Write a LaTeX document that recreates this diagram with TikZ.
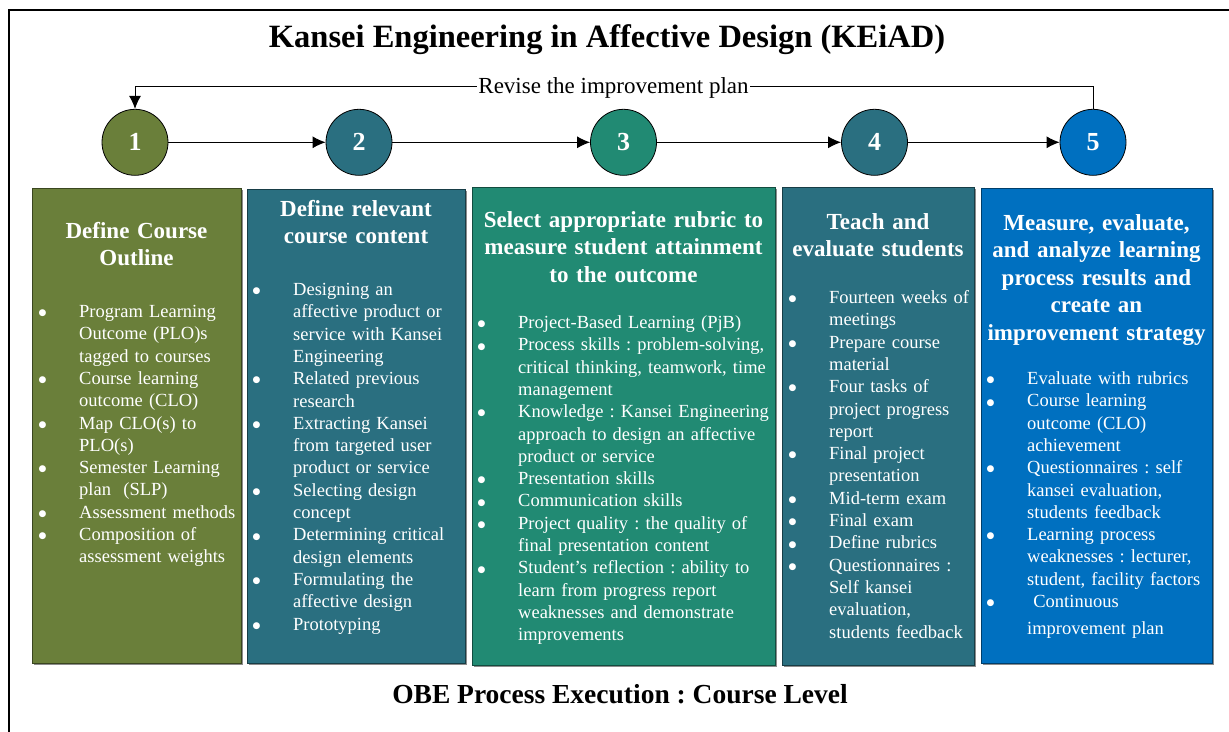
\documentclass[tikz,border=0pt]{standalone}
\usepackage{fontspec}
\setmainfont{Liberation Serif}
\newfontfamily\symfont{DejaVu Sans}
\usetikzlibrary{arrows.meta}
\frenchspacing
\definecolor{kolive}{RGB}{106,127,58}
\definecolor{kteal}{RGB}{42,111,128}
\definecolor{kgreen}{RGB}{33,138,115}
\definecolor{kblue}{RGB}{0,112,192}
\newcommand\bulletmark{\raisebox{1.8pt}{\symfont\fontsize{9}{9}\selectfont ●}}
\newcommand\bl[1]{\noindent\makebox[40.5pt][l]{\bulletmark}\mbox{#1}\par}
\newcommand\cl[1]{\noindent\hspace*{40.5pt}\mbox{#1}\par}
\tikzset{
  stepcircle/.style={circle, draw=black, line width=0.8pt, minimum size=66pt, inner sep=0pt, text=white, font=\bfseries\fontsize{26}{30}\selectfont},
  flow/.style={-{Latex[length=13pt,width=12pt]}, line width=1pt},
  boxhead/.style={anchor=base, align=center, text=white, inner sep=0pt, font=\bfseries\fontsize{23}{27.5}\selectfont},
  boxbody/.style={anchor=base west, align=left, text=white, inner sep=0pt, font=\fontsize{18.5}{22.3}\selectfont},
}
\newcommand\panel[5]{%
  \fill[black!45] (#1+1.5,#2+1.5) rectangle (#3+1.5,#4+1.5);
  \filldraw[fill=#5, draw=#5!55!black, line width=0.8pt] (#1,#2) rectangle (#3,#4);}
\begin{document}
\begin{tikzpicture}[x=1pt,y=-1pt]
\path[use as bounding box] (0,0) rectangle (1229,731);
\begin{scope}
\clip (0,0) rectangle (1229,731);
\draw[line width=2pt] (1240,10) -- (8.5,10) -- (8.5,745);
\end{scope}

\node[anchor=base, font=\bfseries\fontsize{32.5}{38}\selectfont] (title) at (607,47.5) {Kansei Engineering in Affective Design (KEiAD)};

% circles
\node[stepcircle, fill=kolive] (c1) at (135,142.3) {1};
\node[stepcircle, fill=kteal] (c2) at (359,142.3) {2};
\node[stepcircle, fill=kgreen] (c3) at (623.5,142.3) {3};
\node[stepcircle, fill=kteal] (c4) at (874.5,142.3) {4};
\node[stepcircle, fill=kblue] (c5) at (1093,142.3) {5};
\draw[flow] (c1) -- (c2);
\draw[flow] (c2) -- (c3);
\draw[flow] (c3) -- (c4);
\draw[flow] (c4) -- (c5);
\coordinate (loop) at (613.5,86.5);
\draw[flow] (c5.north) |- (loop) -| (c1.north);
\node[anchor=base, fill=white, inner xsep=1.5pt, inner ysep=0pt, font=\fontsize{23}{27}\selectfont] (revise) at (613.5,93.5) {Revise the improvement plan};

% panels
\panel{32}{188.5}{241}{663.5}{kolive}
\panel{247}{189}{465}{663.5}{kteal}
\panel{472}{187}{775}{665}{kgreen}
\panel{782}{187}{974}{665}{kteal}
\panel{981}{188.5}{1212}{663.5}{kblue}

% headers
\node[boxhead, text width=205pt] (h1) at (136.5,238) {Define Course\\Outline};
\node[boxhead, text width=214pt] (h2) at (356,216) {Define relevant\\course content};
\node[boxhead, text width=299pt] (h3) at (623.5,227) {Select appropriate rubric to\\measure student attainment\\to the outcome};
\node[boxhead, text width=190pt] (h4) at (878,229) {Teach and\\evaluate students};
\node[boxhead, text width=229pt] (h5) at (1096.5,230) {Measure, evaluate,\\and analyze learning\\process results and\\create an\\improvement strategy};

% bodies
\node[boxbody, text width=200pt] (t1) at (38.5,317.5) {%
\bl{Program Learning}\cl{Outcome (PLO)s}\cl{tagged to courses}%
\bl{Course learning}\cl{outcome (CLO)}%
\bl{Map CLO(s) to}\cl{PLO(s)}%
\bl{Semester Learning}\cl{plan\ \ (SLP)}%
\bl{Assessment methods}%
\bl{Composition of}\cl{assessment weights}};

\node[boxbody, text width=210pt] (t2) at (252.5,295.5) {%
\bl{Designing an}\cl{affective product or}\cl{service with Kansei}\cl{Engineering}%
\bl{Related previous}\cl{research}%
\bl{Extracting Kansei}\cl{from targeted user}\cl{product or service}%
\bl{Selecting design}\cl{concept}%
\bl{Determining critical}\cl{design elements}%
\bl{Formulating the}\cl{affective design}%
\bl{Prototyping}};

\node[boxbody, text width=295pt] (t3) at (477.5,328.5) {%
\bl{Project-Based Learning (PjB)}%
\bl{Process skills : problem-solving,}\cl{critical thinking, teamwork, time}\cl{management}%
\bl{Knowledge : Kansei Engineering}\cl{approach to design an affective}\cl{product or service}%
\bl{Presentation skills}%
\bl{Communication skills}%
\bl{Project quality : the quality of}\cl{final presentation content}%
\bl{Student’s reflection : ability to}\cl{learn from progress report}\cl{weaknesses and demonstrate}\cl{improvements}};

\node[boxbody, text width=184pt] (t4) at (788.5,303.5) {%
\bl{Fourteen weeks of}\cl{meetings}%
\bl{Prepare course}\cl{material}%
\bl{Four tasks of}\cl{project progress}\cl{report}%
\bl{Final project}\cl{presentation}%
\bl{Mid-term exam}%
\bl{Final exam}%
\bl{Define rubrics}%
\bl{Questionnaires :}\cl{Self kansei}\cl{evaluation,}\cl{students feedback}};

\node[boxbody, text width=223pt] (t5) at (986.5,384.5) {%
\bl{Evaluate with rubrics}%
\bl{Course learning}\cl{outcome (CLO)}\cl{achievement}%
\bl{Questionnaires : self}\cl{kansei evaluation,}\cl{students feedback}%
\bl{Learning process}\cl{weaknesses : lecturer,}\cl{student, facility factors}%
\bl{\ Continuous}\vspace{4.7pt}\cl{improvement plan}};

\node[anchor=base, font=\bfseries\fontsize{27.5}{32}\selectfont] (footer) at (620,703.5) {OBE Process Execution : Course Level};
\end{tikzpicture}
\end{document}
